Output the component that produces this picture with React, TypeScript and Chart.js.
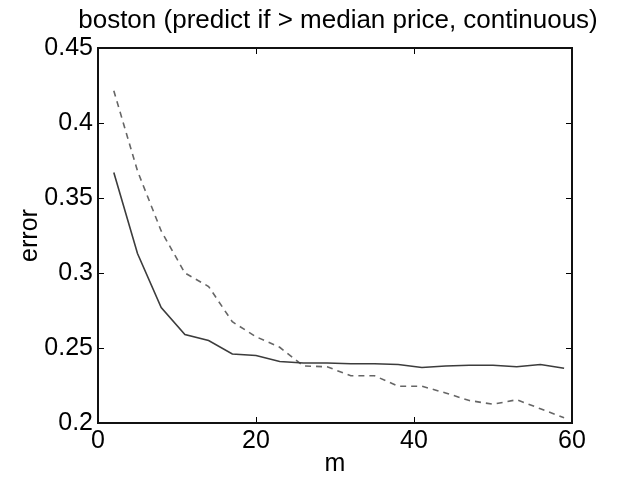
import React, { useEffect, useRef } from "react";
import { Chart, registerables } from "chart.js";

Chart.register(...registerables);

const titleText = "boston (predict if > median price, continuous)";
const xLabel = "m";
const yLabel = "error";
const mValues = [2, 5, 8, 11, 14, 17, 20, 23, 26, 29, 32, 35, 38, 41, 44, 47, 50, 53, 56, 59];
const solidError = [0.367, 0.313, 0.277, 0.259, 0.255, 0.246, 0.245, 0.241, 0.240, 0.240, 0.2395, 0.2395, 0.239, 0.237, 0.238, 0.2385, 0.2385, 0.2375, 0.239, 0.2365];
const dashedError = [0.4215, 0.368, 0.328, 0.300, 0.291, 0.2675, 0.2575, 0.2505, 0.238, 0.2375, 0.2315, 0.2315, 0.2245, 0.2245, 0.220, 0.215, 0.2125, 0.2155, 0.2095, 0.2035];
const xTicks = [0, 20, 40, 60];
const yTicks = [0.2, 0.25, 0.3, 0.35, 0.4, 0.45];

const FONT = "'Liberation Sans', Arial, Helvetica, sans-serif";

const framePlugin = {
  id: "frameTicks",
  afterDatasetsDraw(chart: any) {
    const { ctx, chartArea: a, scales } = chart;
    const len = 6;
    ctx.save();
    ctx.strokeStyle = "#000";
    ctx.lineWidth = 1;
    for (const v of xTicks) {
      const px = Math.round(scales.x.getPixelForValue(v)) + 0.5;
      ctx.beginPath();
      ctx.moveTo(px, a.bottom);
      ctx.lineTo(px, a.bottom - len);
      ctx.moveTo(px, a.top);
      ctx.lineTo(px, a.top + len);
      ctx.stroke();
    }
    for (const v of yTicks) {
      const py = Math.round(scales.y.getPixelForValue(v)) + 0.5;
      ctx.beginPath();
      ctx.moveTo(a.left, py);
      ctx.lineTo(a.left + len, py);
      ctx.moveTo(a.right, py);
      ctx.lineTo(a.right - len, py);
      ctx.stroke();
    }
    ctx.lineWidth = 2;
    ctx.strokeStyle = "#111";
    ctx.strokeRect(a.left, a.top, a.right - a.left, a.bottom - a.top);
    // title, centred slightly right of the plot centre as in the reference
    ctx.fillStyle = "#000";
    ctx.font = `26px ${FONT}`;
    ctx.textAlign = "center";
    ctx.textBaseline = "alphabetic";
    ctx.fillText(titleText, (a.left + a.right) / 2 + 3, 28);
    ctx.restore();
  },
};

export default function App() {
  const ref = useRef<HTMLCanvasElement | null>(null);
  useEffect(() => {
    if (!ref.current) return;
    const chart = new Chart(ref.current, {
      type: "line",
      data: {
        datasets: [
          {
            label: "solid",
            data: mValues.map((m, i) => ({ x: m, y: solidError[i] })),
            borderColor: "#3c3c3c",
            borderWidth: 1.6,
            pointRadius: 0,
            tension: 0,
            fill: false,
          },
          {
            label: "dashed",
            data: mValues.map((m, i) => ({ x: m, y: dashedError[i] })),
            borderColor: "#666666",
            borderWidth: 1.6,
            borderDash: [6, 5],
            pointRadius: 0,
            tension: 0,
            fill: false,
          },
        ],
      },
      options: {
        responsive: false,
        animation: false,
        devicePixelRatio: 1,
        layout: { padding: { left: 0, right: 48, top: 48, bottom: 0 } },
        plugins: {
          legend: { display: false },
          tooltip: { enabled: false },
          title: { display: false },
        },
        scales: {
          x: {
            type: "linear",
            min: 0,
            max: 60,
            afterBuildTicks: (s: any) => {
              s.ticks = xTicks.map((v) => ({ value: v }));
            },
            afterFit: (s: any) => {
              s.height = 57;
            },
            grid: { display: false, drawTicks: false },
            border: { display: false },
            ticks: {
              color: "#000",
              padding: 3,
              maxRotation: 0,
              font: { family: FONT, size: 25, lineHeight: 1.2 },
              callback: (v: any) => String(v),
            },
            title: {
              display: true,
              text: xLabel,
              color: "#000",
              font: { family: FONT, size: 25, lineHeight: 1.2 },
              padding: { top: 0, bottom: 1 },
            },
          },
          y: {
            type: "linear",
            min: 0.2,
            max: 0.45,
            afterBuildTicks: (s: any) => {
              s.ticks = yTicks.map((v) => ({ value: v }));
            },
            afterFit: (s: any) => {
              s.width = 98;
            },
            grid: { display: false, drawTicks: false },
            border: { display: false },
            ticks: {
              color: "#000",
              padding: 5,
              font: { family: FONT, size: 25, lineHeight: 1.2 },
              callback: (v: any) => String(Number(Number(v).toFixed(2))),
            },
            title: {
              display: true,
              text: yLabel,
              color: "#000",
              font: { family: FONT, size: 25, lineHeight: 1.2 },
              padding: { top: 15, bottom: 0 },
            },
          },
        },
      },
      plugins: [framePlugin],
    } as any);
    return () => chart.destroy();
  }, []);
  return (
    <div style={{ position: "absolute", left: 0, top: 0, width: 620, height: 480, background: "#fff" }}>
      <canvas ref={ref} width={620} height={480} />
    </div>
  );
}
